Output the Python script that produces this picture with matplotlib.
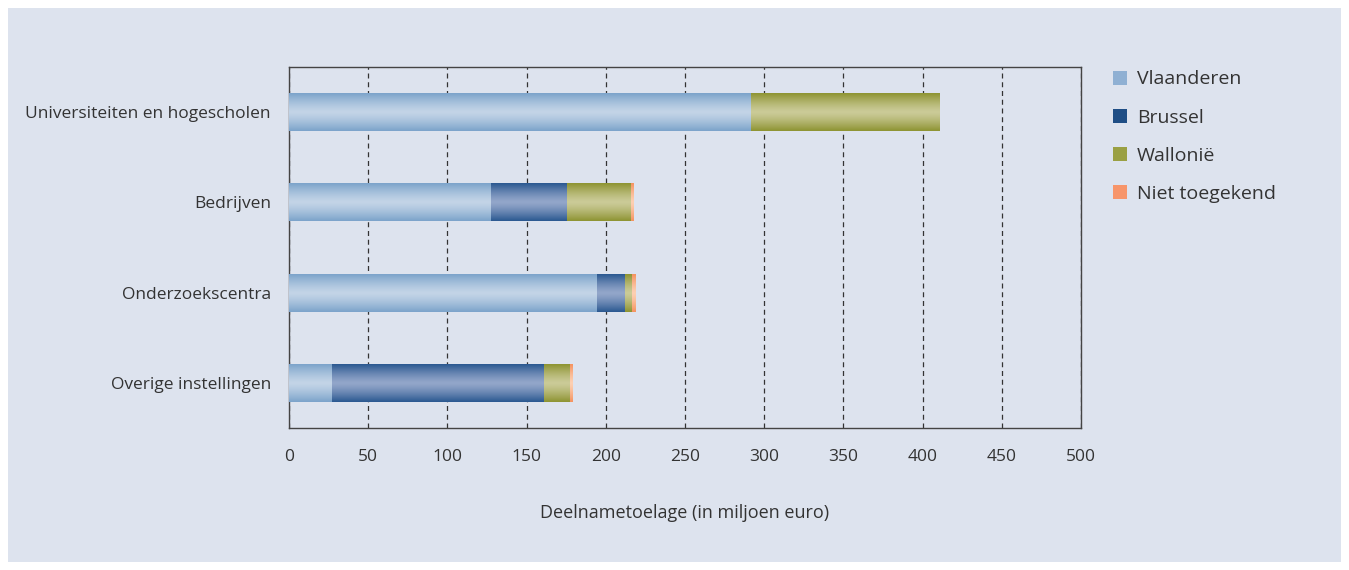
import numpy as np
import matplotlib
matplotlib.use("Agg")
import matplotlib.pyplot as plt
from matplotlib.colors import LinearSegmentedColormap
from matplotlib.patches import Rectangle, Patch

# ======================================================
# Data
# ======================================================

categories = ["Universiteiten en hogescholen", "Bedrijven", "Onderzoekscentra", "Overige instellingen"]
series_names = ["Vlaanderen", "Brussel", "Wallonië", "Niet toegekend"]

vlaanderen = [291.7, 127.5, 194.4, 27.1]
brussel = [0.0, 47.8, 17.7, 133.9]
wallonie = [119.3, 40.6, 4.2, 16.4]
niet_toegekend = [0.0, 1.3, 2.1, 1.3]

xticks = [0, 50, 100, 150, 200, 250, 300, 350, 400, 450, 500]

# ======================================================
# Styles
# ======================================================

bg = "#dde3ee"
text_color = "#333333"
legend_colors = ["#8fb0d3", "#1f4e85", "#9aa043", "#f7956a"]
# (edge, middle) colours for the vertical shading of the bars
gradients = [
    ("#7ba3ca", "#c3d4e7"),
    ("#2a5890", "#93a6ca"),
    ("#8d9331", "#cbcb98"),
    ("#f5925f", "#fdd0b2"),
]

plt.rcParams["font.family"] = ["Open Sans", "DejaVu Sans"]

fig = plt.figure(figsize=(13.49, 5.70), dpi=100, facecolor="white")
fig.patches.append(Rectangle((8 / 1349, 8 / 570), 1 - 16 / 1349, 1 - 16 / 570,
                             transform=fig.transFigure, facecolor=bg,
                             edgecolor="none", zorder=-10))

ax = fig.add_axes([289 / 1349, 1 - 428 / 570, 792 / 1349, 361 / 570])
ax.set_facecolor(bg)

y = np.arange(len(categories))
series = [vlaanderen, brussel, wallonie, niet_toegekend]
left = np.zeros(len(categories))

grad = np.abs(np.linspace(-1, 1, 256)) ** 1.3
grad = grad.reshape(-1, 1)

for vals, name, (edge, mid) in zip(series, series_names, gradients):
    vals = np.array(vals)
    bars = ax.barh(y, vals, left=left, height=0.42, color=edge,
                   edgecolor="none", zorder=2)
    cmap = LinearSegmentedColormap.from_list(name, [mid, edge])
    for b in bars:
        if b.get_width() <= 0:
            continue
        x0, y0 = b.get_x(), b.get_y()
        w, h = b.get_width(), b.get_height()
        im = ax.imshow(grad, cmap=cmap, aspect="auto",
                       extent=[x0, x0 + w, y0 + h, y0], zorder=3,
                       interpolation="bicubic")
        im.set_clip_path(b)
    left = left + vals

ax.set_xlim(0, 500)
ax.set_ylim(3.5, -0.5)
ax.set_xticks(xticks)
ax.set_yticks(y)
ax.set_yticklabels(categories)
ax.tick_params(axis="both", length=0, labelsize=12.5, colors=text_color, pad=13)
ax.tick_params(axis="x", pad=15)

ax.xaxis.grid(True, linestyle=(0, (4, 3)), color="#333333", linewidth=0.9, zorder=1)
ax.set_axisbelow(True)
for s in ax.spines.values():
    s.set_color("#444444")
    s.set_linewidth(1.0)

ax.set_xlabel("Deelnametoelage (in miljoen euro)", fontsize=13, color=text_color, labelpad=28)

handles = [Patch(facecolor=c, edgecolor="none") for c in legend_colors]
leg = fig.legend(handles, series_names, loc="upper left",
                 bbox_to_anchor=(1095 / 1349, 1 - 53 / 570), frameon=False,
                 fontsize=14, handlelength=0.75, handleheight=0.75,
                 handletextpad=0.5, labelspacing=1.03)
for t in leg.get_texts():
    t.set_color(text_color)

fig.savefig("out.png", dpi=100, facecolor="white")
